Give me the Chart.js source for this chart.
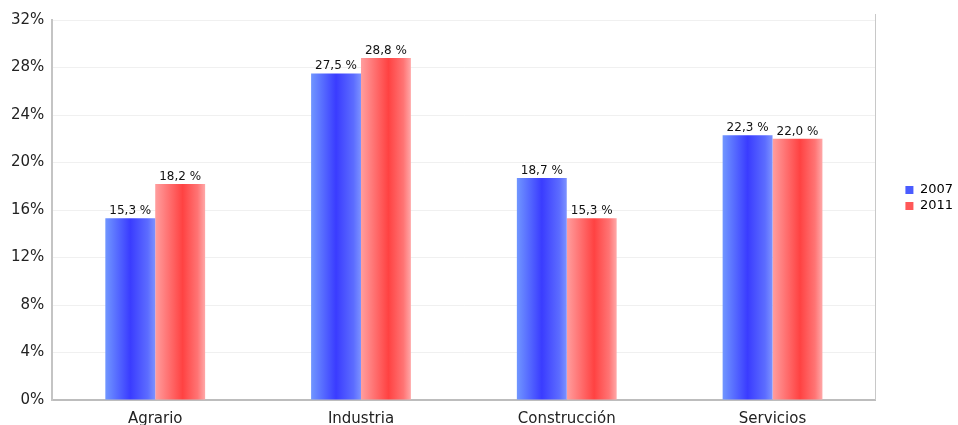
<!DOCTYPE html>
<html>
<head>
<meta charset="utf-8">
<script src="https://cdn.jsdelivr.net/npm/chart.js@4"></script>
<style>
  html, body { margin:0; padding:0; background:#fff; }
  #wrap { width:958px; height:425px; }
</style>
</head>
<body>
<div id="wrap"><canvas id="chart" width="958" height="425"></canvas></div>
<script>
const CATEGORIES = ['Agrario', 'Industria', 'Construcción', 'Servicios'];
const SERIES_NAMES = ['2007', '2011'];
const VALUES_2007 = [15.3, 27.5, 18.7, 22.3];
const VALUES_2011 = [18.2, 28.8, 15.3, 22.0];
const Y_TICKS = [0, 4, 8, 12, 16, 20, 24, 28, 32];

const CAT_PCT = 0.485;
const FONT = '"DejaVu Sans", Verdana, sans-serif';

// horizontal "cylinder" shading, per bar
function shade(stops, fallback, side){
  return function(ctx){
    const chart = ctx.chart;
    const xs = chart.scales && chart.scales.x;
    if(!xs || !chart.chartArea || ctx.dataIndex === undefined) return fallback;
    const c = xs.getPixelForValue(ctx.dataIndex);
    const w = (chart.chartArea.width / CATEGORIES.length) * CAT_PCT / 2;
    const x0 = side === 0 ? c - w : c;
    const g = chart.ctx.createLinearGradient(x0, 0, x0 + w, 0);
    stops.forEach(s => g.addColorStop(s[0], s[1]));
    return g;
  };
}

const blueStops = [[0,'#7096ff'],[0.5,'#3a3cff'],[0.85,'#5c6cff'],[1,'#7c92ff']];
const redStops = [[0,'#ff9e9e'],[0.55,'#ff4242'],[0.85,'#ff7474'],[1,'#ffa8a8']];

function fmtPct(v){ return v.toFixed(1).replace('.', ',') + ' %'; }

const valueLabels = {
  id:'valueLabels',
  afterDatasetsDraw(chart){
    const ctx = chart.ctx;
    ctx.save();
    ctx.font = '12px ' + FONT;
    ctx.fillStyle = '#111';
    ctx.textAlign = 'center';
    ctx.textBaseline = 'alphabetic';
    chart.data.datasets.forEach((ds, i) => {
      chart.getDatasetMeta(i).data.forEach((bar, j) => {
        ctx.fillText(fmtPct(ds.data[j]), bar.x, bar.y - 4);
      });
    });
    ctx.restore();
  }
};

// legend sits further right and a bit higher than Chart.js puts it
const legendNudge = {
  id:'legendNudge',
  afterLayout(chart){
    const lg = chart.legend;
    if(!lg) return;
    lg.left += 27; lg.right += 27;
    lg.top -= 31; lg.bottom -= 31;
  }
};

// thin frame line at the right edge of the plot
const rightEdge = {
  id:'rightEdge',
  afterDraw(chart){
    const a = chart.chartArea, ctx = chart.ctx;
    ctx.save();
    ctx.strokeStyle = '#c8c8c8';
    ctx.lineWidth = 1;
    ctx.beginPath();
    ctx.moveTo(Math.round(a.right) + 0.5, a.top - 6);
    ctx.lineTo(Math.round(a.right) + 0.5, a.bottom);
    ctx.stroke();
    ctx.restore();
  }
};

new Chart(document.getElementById('chart'), {
  type:'bar',
  data:{
    labels: CATEGORIES,
    datasets:[
      {label:SERIES_NAMES[0], data:VALUES_2007, backgroundColor:shade(blueStops, '#3c46ff', 0), borderWidth:0},
      {label:SERIES_NAMES[1], data:VALUES_2011, backgroundColor:shade(redStops, '#ff4646', 1), borderWidth:0}
    ]
  },
  options:{
    responsive:false,
    animation:false,
    layout:{padding:{top:20, right:22, bottom:-13, left:3}},
    datasets:{bar:{categoryPercentage:CAT_PCT, barPercentage:1.0}},
    plugins:{
      legend:{
        position:'right',
        labels:{
          boxWidth:8, boxHeight:8, padding:3, color:'#222',
          font:{family:FONT, size:13},
          generateLabels(chart){
            const cols = ['#4a5cff', '#ff5858'];
            return chart.data.datasets.map((ds, i) => ({
              text: ds.label, fillStyle: cols[i], strokeStyle: cols[i], lineWidth:0, datasetIndex:i
            }));
          }
        }
      },
      tooltip:{enabled:false}
    },
    scales:{
      x:{
        grid:{display:false, drawTicks:false, tickLength:0},
        border:{color:'#bdbdbd', width:2},
        ticks:{color:'#222', padding:10, font:{family:FONT, size:15}}
      },
      y:{
        min:0, max:32,
        afterBuildTicks(axis){ axis.ticks = Y_TICKS.map(v => ({value:v})); },
        grid:{color:'#f0f0f0', drawTicks:false},
        border:{color:'#c4c4c4', width:2},
        ticks:{color:'#222', padding:8, callback:v => v + '%', font:{family:FONT, size:15}}
      }
    }
  },
  plugins:[valueLabels, legendNudge, rightEdge]
});
</script>
</body>
</html>
